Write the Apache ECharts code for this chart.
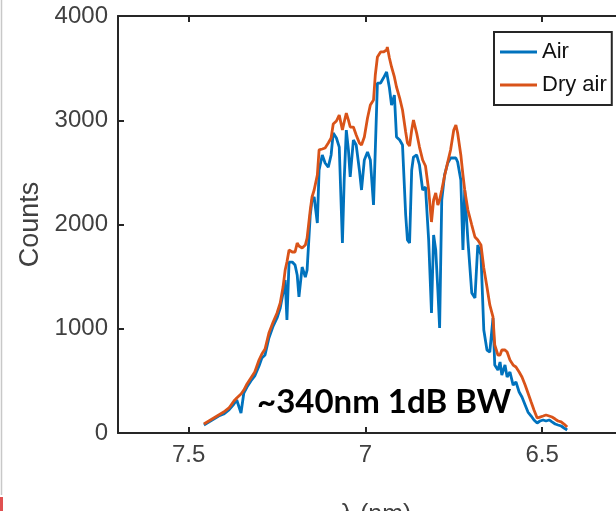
<!DOCTYPE html>
<html>
<head>
<meta charset="utf-8">
<title>Counts vs wavelength</title>
<script src="https://cdn.jsdelivr.net/npm/echarts@6/dist/echarts.min.js"></script>
<style>
  html, body { margin: 0; padding: 0; background: #fff; }
  #chart { width: 616px; height: 511px; }
</style>
</head>
<body>
<div id="chart"></div>
<script>
// wavelength samples (nm), shared by both traces
const lambda = [
  7.457, 7.443, 7.429, 7.415, 7.401, 7.386, 7.372, 7.364, 7.352, 7.344,
  7.335, 7.324, 7.313, 7.301, 7.293, 7.284, 7.273, 7.261, 7.250, 7.241,
  7.233, 7.227, 7.222, 7.216, 7.207, 7.199, 7.193, 7.188, 7.179, 7.170,
  7.165, 7.156, 7.151, 7.145, 7.136, 7.131, 7.122, 7.114, 7.105, 7.097,
  7.091, 7.082, 7.074, 7.065, 7.060, 7.054, 7.048, 7.043, 7.034, 7.026,
  7.017, 7.011, 7.003, 6.994, 6.986, 6.977, 6.972, 6.966, 6.957, 6.949,
  6.940, 6.938, 6.932, 6.926, 6.918, 6.912, 6.903, 6.895, 6.886, 6.881,
  6.875, 6.869, 6.864, 6.855, 6.847, 6.838, 6.830, 6.821, 6.813, 6.807,
  6.801, 6.795, 6.790, 6.784, 6.776, 6.767, 6.759, 6.750, 6.744, 6.739,
  6.730, 6.724, 6.719, 6.710, 6.699, 6.690, 6.682, 6.673, 6.665, 6.656,
  6.648, 6.639, 6.634, 6.625, 6.619, 6.614, 6.605, 6.599, 6.591, 6.582,
  6.574, 6.565, 6.557, 6.548, 6.540, 6.531, 6.523, 6.514, 6.506, 6.497,
  6.489, 6.480, 6.472, 6.463, 6.455, 6.446, 6.438, 6.429
];

const air = [
  77, 106, 134, 163, 182, 221, 278, 317, 192, 384,
  441, 499, 547, 643, 719, 748, 911, 1026, 1103, 1199,
  1343, 1468, 1084, 1640, 1640, 1611, 1516, 1305, 1592, 1496,
  1563, 2091, 2235, 2264, 2014, 2523, 2667, 2590, 2551, 2667,
  2878, 2830, 2743, 1822, 2427, 2906, 2715, 2456, 2810, 2762,
  2523, 2331, 2619, 2695, 2619, 2187, 2715, 3357, 3357, 3405,
  3463, 3482, 3309, 3146, 3242, 2839, 2810, 2762, 2091, 1851,
  1822, 2523, 2647, 2667, 2571, 2331, 2360, 1851, 1151, 1899,
  1755, 1372, 1007, 2235, 2475, 2590, 2638, 2638, 2638, 2599,
  2427, 1755, 2331, 1851, 1343, 1295, 1803, 1707, 988, 796,
  777, 1103, 652, 604, 681, 556, 652, 537, 585, 460,
  489, 393, 345, 269, 201, 163, 125, 96, 115, 125,
  115, 125, 106, 86, 77, 67, 48, 29
];

const dryAir = [
  86, 115, 144, 173, 201, 240, 307, 336, 374, 412,
  470, 528, 585, 700, 758, 806, 959, 1065, 1151, 1247,
  1400, 1563, 1640, 1755, 1736, 1736, 1822, 1794, 1775, 1803,
  1870, 2139, 2264, 2331, 2475, 2715, 2724, 2734, 2782, 2830,
  2964, 2993, 3050, 2906, 2983, 3069, 3002, 2935, 2935, 2858,
  2782, 2762, 2839, 3021, 3146, 3194, 3434, 3607, 3655, 3655,
  3674, 3703, 3597, 3511, 3415, 3319, 3213, 3098, 2887, 2782,
  2753, 2906, 3002, 2878, 2743, 2619, 2561, 2331, 2024, 2235,
  2302, 2187, 2235, 2331, 2465, 2599, 2715, 2906, 2954, 2878,
  2667, 2475, 2331, 2139, 1995, 1880, 1851, 1803, 1583, 1400,
  1228, 1113, 844, 748, 748, 796, 796, 777, 700, 652,
  633, 585, 537, 460, 384, 297, 221, 144, 153, 163,
  173, 163, 153, 134, 115, 106, 86, 58
];

const xTicks = [7.5, 7, 6.5];
const seriesNames = ['Air', 'Dry air'];

const chart = echarts.init(document.getElementById('chart'), null, { renderer: 'canvas' });

const axisColor = '#262626';
const labelColor = '#404040';
const fontFamily = '"Liberation Sans", Arial, sans-serif';

const airData = lambda.map((x, i) => [x, air[i]]);
const dryData = lambda.map((x, i) => [x, dryAir[i]]);

const option = {
  animation: false,
  backgroundColor: '#fff',
  grid: {
    left: 118,
    top: 16,
    width: 516,
    height: 417,
    outerBoundsMode: 'none',
    containLabel: false
  },
  legend: {
    orient: 'vertical',
    left: 494,
    top: 32,
    padding: [8, 5, 8, 6],
    itemGap: 9,
    itemWidth: 37,
    itemHeight: 3,
    icon: 'rect',
    borderColor: axisColor,
    borderWidth: 2,
    backgroundColor: '#fff',
    data: seriesNames,
    textStyle: {
      fontFamily: fontFamily,
      fontSize: 22,
      lineHeight: 24,
      color: '#111'
    }
  },
  xAxis: [
    {
      type: 'value',
      inverse: true,
      min: 6.24,
      max: 7.7,
      position: 'bottom',
      name: 'λ (nm)',
      nameLocation: 'middle',
      nameGap: 70,
      nameTextStyle: { fontFamily: fontFamily, fontSize: 25, color: labelColor },
      axisLine: { show: true, lineStyle: { color: axisColor, width: 2 } },
      axisTick: { show: true, inside: true, length: 6, customValues: xTicks, lineStyle: { color: axisColor, width: 2 } },
      axisLabel: { show: true, customValues: xTicks, margin: 10, fontFamily: fontFamily, fontSize: 24, color: labelColor },
      splitLine: { show: false }
    },
    {
      type: 'value',
      inverse: true,
      min: 6.24,
      max: 7.7,
      position: 'top',
      axisLine: { show: true, onZero: false, lineStyle: { color: axisColor, width: 2 } },
      axisTick: { show: true, inside: true, length: 6, customValues: xTicks, lineStyle: { color: axisColor, width: 2 } },
      axisLabel: { show: false },
      splitLine: { show: false }
    }
  ],
  yAxis: {
    type: 'value',
    min: 0,
    max: 4000,
    interval: 1000,
    name: 'Counts',
    nameLocation: 'middle',
    nameRotate: 90,
    nameGap: 66,
    nameTextStyle: { fontFamily: fontFamily, fontSize: 27, color: labelColor },
    axisLine: { show: true, lineStyle: { color: axisColor, width: 2 } },
    axisTick: { show: true, inside: true, length: 6, lineStyle: { color: axisColor, width: 2 } },
    axisLabel: {
      margin: 10,
      fontFamily: fontFamily,
      fontSize: 24,
      color: labelColor,
      formatter: (v) => String(v)
    },
    splitLine: { show: false }
  },
  series: [
    {
      name: seriesNames[0],
      type: 'line',
      data: airData,
      symbol: 'none',
      lineStyle: { color: '#0072BD', width: 2.8 },
      itemStyle: { color: '#0072BD' },
      z: 2
    },
    {
      name: seriesNames[1],
      type: 'line',
      data: dryData,
      symbol: 'none',
      lineStyle: { color: '#D95319', width: 2.8 },
      itemStyle: { color: '#D95319' },
      z: 3
    }
  ],
  graphic: [
    {
      type: 'text',
      left: 257,
      top: 386,
      z: 10,
      style: {
        text: '~340nm 1dB BW',
        font: 'bold 33px Lato, "Open Sans", sans-serif',
        fill: '#000'
      }
    },
    {
      type: 'line',
      shape: { x1: 1.5, y1: 0, x2: 1.5, y2: 495 },
      style: { stroke: '#c8c8c8', lineWidth: 1.5 }
    },
    {
      type: 'rect',
      shape: { x: 0, y: 497, width: 3, height: 14 },
      style: { fill: '#e05050' }
    }
  ]
};

chart.setOption(option);
</script>
</body>
</html>
